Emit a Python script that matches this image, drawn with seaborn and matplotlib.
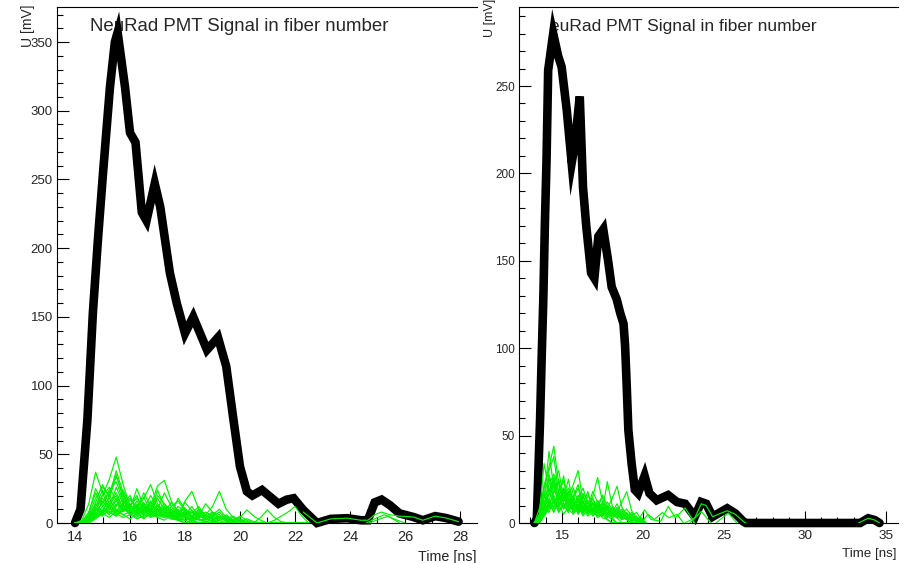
import matplotlib
matplotlib.use('Agg')
import matplotlib.pyplot as plt
from matplotlib.ticker import MultipleLocator
import seaborn as sns
import pandas as pd

# ---- left pad: summed PMT signal (black) + single fibers (green) ----
sum_t_left = [14.0, 14.2, 14.45, 14.65, 14.84, 15.02, 15.27, 15.45, 15.55, 15.82, 16.0, 16.2,
              16.43, 16.6, 16.9, 17.1, 17.45, 17.7, 18.0, 18.3, 18.8, 19.2, 19.5, 19.75, 20.0,
              20.25, 20.45, 20.8, 21.1, 21.4, 21.7, 21.95, 22.3, 22.8, 23.3, 23.9, 24.4, 24.65,
              24.9, 25.15, 25.45, 25.8, 26.3, 26.65, 27.1, 27.5, 27.95]
sum_v_left = [0, 10, 75, 153, 208, 255, 317, 350, 357, 317, 284, 277,
              226, 220, 247, 230, 182, 160, 138, 150, 126, 135, 114, 77, 41,
              23, 20, 24, 19, 14, 17, 18, 9.5, 0, 3, 3.5, 2, 2,
              15, 17, 13, 7, 4.4, 2, 5, 3.6, 1]

fib_t_left = [14.0, 14.25, 14.5, 14.75, 15.0, 15.25, 15.5, 15.75, 16.0, 16.25, 16.5, 16.75,
              17.0, 17.25, 17.5, 17.75, 18.0, 18.25, 18.5, 18.75, 19.0, 19.25, 19.5, 19.75,
              20.0, 20.25, 20.5, 20.75, 21.0, 21.25, 21.5, 21.75, 22.0, 22.25, 22.5]
fib_v_left = [
    [0, 0, 4, 12, 20, 32, 48, 28, 12, 6, 9, 4, 6, 10, 5, 2, 4, 1, 0, 0, 0, 0, 0, 0, 0, 0, 0, 0, 0, 0, 0, 0, 0, 0, 0],
    [0, 2, 14, 37, 22, 10, 16, 9, 14, 7, 3, 8, 4, 2, 6, 3, 0, 2, 0, 0, 0, 0, 0, 0, 0, 0, 0, 0, 0, 0, 0, 0, 0, 0, 0],
    [0, 0, 6, 18, 26, 20, 38, 22, 10, 25, 12, 6, 9, 4, 7, 3, 2, 0, 0, 0, 0, 0, 0, 0, 0, 0, 0, 0, 0, 0, 0, 0, 0, 0, 0],
    [0, 0, 3, 9, 14, 24, 30, 16, 8, 12, 18, 28, 14, 8, 5, 9, 4, 3, 0, 0, 0, 0, 0, 0, 0, 0, 0, 0, 0, 0, 0, 0, 0, 0, 0],
    [0, 1, 8, 22, 12, 18, 9, 14, 20, 10, 6, 12, 27, 31, 16, 8, 10, 5, 3, 0, 0, 0, 0, 0, 0, 0, 0, 0, 0, 0, 0, 0, 0, 0, 0],
    [0, 0, 2, 10, 18, 12, 26, 14, 6, 10, 22, 12, 8, 14, 9, 4, 16, 23, 10, 5, 3, 0, 0, 0, 0, 0, 0, 0, 0, 0, 0, 0, 0, 0, 0],
    [0, 0, 5, 14, 8, 20, 12, 22, 10, 6, 14, 9, 18, 10, 6, 12, 8, 5, 10, 6, 12, 23, 10, 4, 2, 0, 0, 0, 0, 0, 0, 0, 0, 0, 0],
    [0, 0, 1, 6, 16, 10, 18, 8, 12, 20, 8, 16, 10, 22, 12, 6, 15, 9, 4, 8, 5, 3, 6, 2, 0, 0, 0, 0, 0, 0, 0, 0, 0, 0, 0],
    [0, 0, 4, 12, 24, 14, 8, 15, 18, 9, 12, 6, 20, 14, 7, 10, 6, 12, 5, 14, 8, 6, 3, 5, 2, 0, 0, 0, 0, 0, 0, 0, 0, 0, 0],
    [0, 0, 2, 8, 6, 14, 20, 11, 6, 13, 7, 15, 9, 6, 12, 16, 9, 4, 8, 3, 6, 10, 4, 2, 4, 9.5, 5, 2, 0, 0, 0, 0, 0, 0, 0],
    [0, 0, 0, 4, 10, 7, 12, 17, 9, 5, 11, 6, 13, 8, 15, 7, 11, 5, 9, 4, 7, 3, 5, 2, 3, 1, 0, 4, 9.5, 4, 1, 0, 0, 0, 0],
    [0, 0, 3, 7, 5, 11, 6, 9, 14, 7, 10, 5, 8, 12, 6, 4, 9, 5, 7, 3, 5, 8, 3, 2, 5, 2, 0, 0, 0, 2, 5, 8, 12, 5, 0],
    [0, 0, 1, 5, 9, 16, 10, 6, 8, 12, 5, 9, 6, 10, 4, 7, 5, 8, 4, 6, 3, 5, 2, 4, 1, 3, 1, 0, 0, 0, 0, 0, 0, 0, 0],
    [0, 0, 2, 6, 12, 8, 5, 10, 7, 4, 8, 11, 6, 4, 9, 5, 7, 3, 6, 2, 4, 2, 3, 1, 2, 0, 0, 0, 0, 0, 0, 0, 0, 0, 0],
    [0, 0, 0, 3, 7, 4, 9, 6, 3, 7, 4, 6, 10, 5, 3, 6, 4, 2, 5, 3, 2, 4, 1, 2, 0, 0, 0, 0, 0, 0, 0, 0, 0, 0, 0],
    [0, 1, 5, 10, 6, 9, 5, 12, 8, 16, 9, 5, 7, 4, 8, 3, 5, 2, 3, 1, 2, 0, 0, 0, 0, 0, 0, 0, 0, 0, 0, 0, 0, 0, 0],
    [0, 0, 2, 4, 8, 13, 7, 4, 6, 3, 5, 8, 4, 6, 3, 4, 2, 4, 2, 3, 1, 2, 0, 0, 0, 0, 0, 0, 0, 0, 0, 0, 0, 0, 0],
    [0, 0, 3, 15, 28, 18, 34, 20, 9, 14, 7, 10, 5, 8, 3, 2, 0, 0, 0, 0, 0, 0, 0, 0, 0, 0, 0, 0, 0, 0, 0, 0, 0, 0, 0],
    [0, 1, 7, 25, 14, 22, 35, 18, 11, 8, 13, 6, 9, 5, 7, 2, 0, 0, 0, 0, 0, 0, 0, 0, 0, 0, 0, 0, 0, 0, 0, 0, 0, 0, 0],
    [0, 0, 2, 9, 20, 26, 16, 24, 13, 18, 10, 20, 12, 7, 9, 4, 6, 2, 0, 0, 0, 0, 0, 0, 0, 0, 0, 0, 0, 0, 0, 0, 0, 0, 0],
    [0, 0, 4, 11, 7, 13, 22, 10, 17, 11, 19, 8, 24, 12, 10, 6, 8, 4, 3, 1, 0, 0, 0, 0, 0, 0, 0, 0, 0, 0, 0, 0, 0, 0, 0],
    [0, 0, 1, 4, 10, 6, 14, 9, 11, 7, 9, 13, 8, 11, 6, 18, 10, 7, 12, 5, 8, 4, 2, 0, 0, 0, 0, 0, 0, 0, 0, 0, 0, 0, 0],
    [0, 0, 2, 5, 8, 11, 7, 13, 6, 9, 15, 7, 10, 6, 8, 5, 7, 9, 4, 6, 3, 5, 2, 1, 0, 0, 0, 0, 0, 0, 0, 0, 0, 0, 0],
]
tail_t_left = [[22.3, 22.8, 23.3, 23.9, 24.4, 24.65, 24.9, 25.15, 25.45, 25.8, 26.3, 26.65, 27.1, 27.5, 27.95],
               [24.6, 25.0, 25.25, 25.6, 26.0],
               [24.7, 25.1, 25.4, 25.8]]
tail_v_left = [[8, 0, 3, 3.5, 2, 2, 6, 8, 6, 5, 4.4, 2, 5, 3.6, 1],
               [0, 4, 6, 3, 0],
               [0, 3, 5, 0]]

# ---- right pad ----
sum_t_right = [13.3, 13.45, 13.65, 13.75, 13.85, 13.95, 14.05, 14.15, 14.46, 14.77, 14.98, 15.3,
               15.6, 15.8, 16.1, 16.3, 16.5, 16.8, 17.0, 17.25, 17.55, 17.85, 18.07, 18.38, 18.6,
               18.8, 18.9, 19.0, 19.1, 19.3, 19.5, 19.7, 20.1, 20.4, 20.85, 21.55, 22.1, 22.6,
               23.2, 23.6, 23.9, 24.3, 24.65, 25.2, 25.7, 26.2, 26.35, 33.4, 33.9, 34.3, 34.6]
sum_v_right = [0, 2, 59, 95, 128, 172, 208, 259, 280, 267, 261, 236,
               206, 217, 244, 192, 170, 143, 140, 164, 168, 150, 135, 128, 120,
               114, 101, 78, 53, 34, 19, 17, 27, 17, 13, 16, 12, 11,
               3.6, 12, 11, 3.6, 5.5, 8.4, 5.5, 0.8, 0, 0, 2.7, 1.7, 0]

fib_t_right = [13.3, 13.6, 13.9, 14.2, 14.5, 14.8, 15.1, 15.4, 15.7, 16.0, 16.3, 16.6,
               16.9, 17.2, 17.5, 17.8, 18.1, 18.4, 18.7, 19.0, 19.3, 19.6, 19.9, 20.2]
fib_v_right = [
    [0, 8, 20, 32, 44, 22, 12, 18, 8, 14, 6, 9, 4, 7, 3, 2, 0, 0, 0, 0, 0, 0, 0, 0],
    [0, 5, 34, 18, 26, 14, 27, 10, 16, 7, 12, 5, 8, 3, 5, 2, 0, 0, 0, 0, 0, 0, 0, 0],
    [0, 3, 14, 41, 20, 12, 9, 16, 22, 30, 12, 8, 14, 6, 9, 4, 2, 0, 0, 0, 0, 0, 0, 0],
    [0, 2, 10, 22, 28, 18, 24, 12, 9, 14, 20, 11, 15, 26, 12, 8, 5, 3, 0, 0, 0, 0, 0, 0],
    [0, 4, 18, 12, 24, 30, 14, 20, 11, 8, 15, 9, 18, 12, 7, 23.6, 10, 6, 4, 2, 0, 0, 0, 0],
    [0, 1, 8, 26, 14, 10, 18, 8, 20, 12, 7, 16, 10, 6, 12, 8, 14, 21, 9, 5, 3, 0, 0, 0],
    [0, 2, 12, 16, 22, 9, 14, 25, 10, 6, 11, 18, 7, 13, 8, 5, 9, 6, 12, 18, 7, 3, 1, 0],
    [0, 0, 6, 20, 11, 17, 8, 12, 15, 22, 9, 6, 12, 8, 16, 10, 6, 11, 5, 8, 4, 6, 2, 0],
    [0, 3, 16, 9, 18, 24, 11, 7, 13, 9, 17, 12, 6, 10, 5, 12, 8, 4, 7, 3, 5, 2, 3, 0],
    [0, 1, 9, 14, 8, 12, 20, 15, 7, 11, 6, 10, 14, 9, 11, 6, 4, 8, 3, 6, 2, 4, 1, 0],
    [0, 0, 5, 11, 16, 8, 10, 6, 12, 8, 13, 5, 9, 6, 4, 9, 5, 3, 6, 2, 4, 1, 2, 0],
    [0, 2, 7, 12, 6, 15, 9, 13, 6, 10, 4, 8, 5, 11, 6, 4, 7, 3, 4, 2, 3, 1, 0, 0],
    [0, 0, 4, 8, 13, 6, 11, 8, 5, 9, 6, 12, 7, 4, 8, 5, 3, 6, 2, 4, 1, 2, 0, 0],
    [0, 1, 6, 10, 7, 11, 5, 9, 12, 6, 8, 4, 6, 9, 4, 6, 3, 5, 2, 3, 1, 2, 1, 0],
    [0, 4, 22, 30, 38, 16, 20, 11, 14, 8, 10, 6, 9, 4, 5, 2, 0, 0, 0, 0, 0, 0, 0, 0],
    [0, 2, 15, 28, 17, 25, 12, 18, 9, 16, 8, 12, 7, 10, 5, 6, 3, 0, 0, 0, 0, 0, 0, 0],
    [0, 1, 8, 17, 24, 13, 19, 10, 14, 20, 9, 13, 8, 11, 15, 7, 5, 9, 4, 2, 0, 0, 0, 0],
    [0, 0, 5, 13, 9, 18, 8, 14, 9, 12, 16, 7, 11, 8, 6, 10, 7, 5, 8, 4, 6, 2, 1, 0],
    [0, 3, 10, 6, 14, 9, 16, 7, 11, 5, 9, 12, 5, 8, 10, 4, 6, 3, 5, 2, 3, 1, 0, 0],
    [0, 1, 4, 9, 12, 7, 10, 13, 6, 9, 5, 7, 11, 5, 7, 3, 8, 4, 2, 4, 1, 2, 0, 0],
]
tail_t_right = [[19.6, 20.1, 20.5, 21.1, 21.56, 22.0, 22.6, 23.2],
                [19.9, 20.3, 20.7, 21.2, 21.6, 22.1, 22.5],
                [22.6, 23.2, 23.6, 23.9, 24.3, 24.65, 25.2, 25.7, 26.2, 26.35],
                [24.5, 25.27, 25.8],
                [22.9, 23.6, 24.2],
                [33.3, 33.9, 34.3, 34.6]]
tail_v_right = [[0, 7.5, 2, 1, 9.5, 3, 8.6, 0],
                [0, 5, 2, 6, 3, 5, 0],
                [0, 3, 11, 10, 3.6, 5, 7, 5, 0.8, 0],
                [0, 5.7, 0],
                [0, 6.6, 0],
                [0, 2.7, 1.7, 0]]

title_left = "NeuRad PMT Signal in fiber number"
title_right = "euRad PMT Signal in fiber number"

sns.set_style("ticks")
plt.rcParams['font.family'] = ['Liberation Sans', 'DejaVu Sans']


def fibers_frame(t, rows, extra_t, extra_v):
    parts = []
    for i, v in enumerate(rows):
        parts.append(pd.DataFrame({'t': t, 'v': v, 'fiber': i}))
    for j, (tt, vv) in enumerate(zip(extra_t, extra_v)):
        parts.append(pd.DataFrame({'t': tt, 'v': vv, 'fiber': len(rows) + j}))
    return pd.concat(parts, ignore_index=True)


def draw_pad(ax, st, sv, fib, xlim, ylim, xmaj, xfs, yfs):
    sns.lineplot(x=st, y=sv, ax=ax, color='black', lw=6.2, estimator=None, sort=False,
                 solid_joinstyle='miter', clip_on=False, zorder=2)
    sns.lineplot(data=fib, x='t', y='v', units='fiber', estimator=None, ax=ax,
                 color='#00f000', lw=0.85, legend=False, zorder=3)
    ax.set_xlim(*xlim)
    ax.set_ylim(*ylim)
    ax.set_xlabel('')
    ax.set_ylabel('')
    ax.xaxis.set_major_locator(MultipleLocator(xmaj))
    ax.xaxis.set_minor_locator(MultipleLocator(1))
    ax.yaxis.set_major_locator(MultipleLocator(50))
    ax.yaxis.set_minor_locator(MultipleLocator(10))
    ax.tick_params(which='both', direction='in', top=False, right=False, width=0.8, color='black')
    ax.tick_params(which='major', length=8.5)
    ax.tick_params(which='minor', length=4.5)
    ax.tick_params(axis='x', labelsize=xfs, pad=5)
    ax.tick_params(axis='y', labelsize=yfs, pad=3)
    ax.spines['right'].set_visible(False)
    for s in ['left', 'top', 'bottom']:
        ax.spines[s].set_linewidth(0.8)
        ax.spines[s].set_color('black')
    ax.set_facecolor('white')


W, H = 909, 563
fig = plt.figure(figsize=(W / 100, H / 100), dpi=100)
fig.patch.set_facecolor('white')

ax1 = fig.add_axes([57 / W, 1 - 523 / H, 420 / W, 516 / H])
ax2 = fig.add_axes([519 / W, 1 - 523 / H, 379 / W, 516 / H])

draw_pad(ax1, sum_t_left, sum_v_left,
         fibers_frame(fib_t_left, fib_v_left, tail_t_left, tail_v_left),
         (13.345, 28.62), (0, 375.5), 2, 10.5, 9.5)
draw_pad(ax2, sum_t_right, sum_v_right,
         fibers_frame(fib_t_right, fib_v_right, tail_t_right, tail_v_right),
         (12.35, 35.74), (0, 295.2), 5, 9.7, 8.5)

# titles sit under the signal line, as in the ROOT canvas
ax1.text((90 - 57) / 420, 1 - 24 / 516, title_left, transform=ax1.transAxes,
         fontsize=13.4, va='baseline', ha='left', zorder=1, clip_on=False)
ax2.text((550 - 519) / 379, 1 - 24 / 516, title_right, transform=ax2.transAxes,
         fontsize=12.5, va='baseline', ha='left', zorder=1, clip_on=False)
fig.text(28 / W, 1 - 47 / H, "U [mV]", fontsize=10, rotation=90, ha='center', va='bottom')
fig.text(490 / W, 1 - 37 / H, "U [mV]", fontsize=9, rotation=90, ha='center', va='bottom')
fig.text(477 / W, 1 - 550 / H, "Time [ns]", fontsize=10.3, ha='right', va='top')
fig.text(897 / W, 1 - 548 / H, "Time [ns]", fontsize=9.6, ha='right', va='top')

fig.savefig('out.png', dpi=100)
